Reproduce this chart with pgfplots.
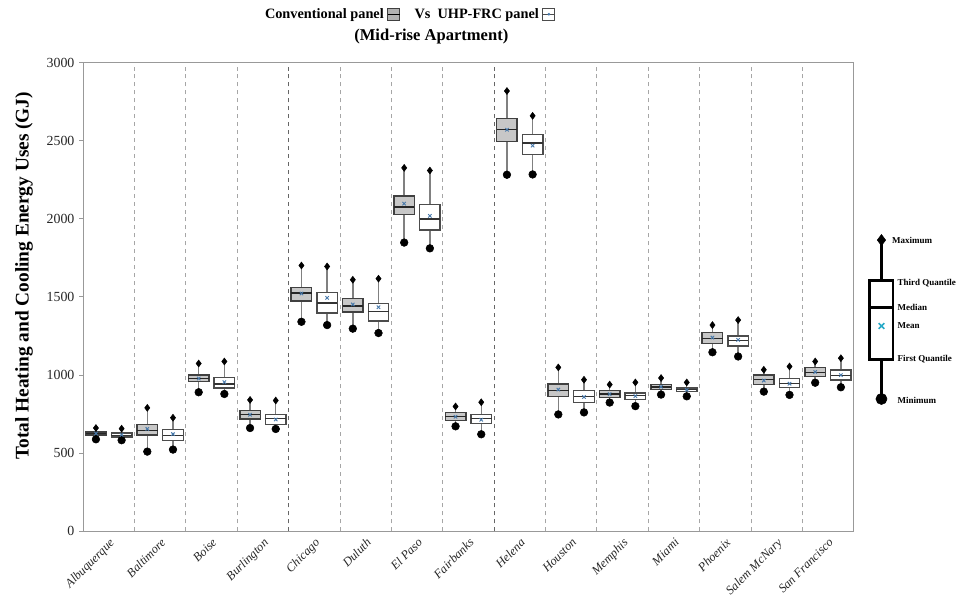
\documentclass[border=0pt]{standalone}
\usepackage{fontspec}
\setmainfont{Liberation Serif}
\usepackage{pgfplots}
\pgfplotsset{compat=1.18}
\usepackage{pgfplotstable}
\usepgfplotslibrary{statistics}
\definecolor{meanblue}{RGB}{70,120,170}
\definecolor{legx}{RGB}{40,170,200}

\pgfplotstableread{
pos   lw   lq   med  uq   uw   mean
0.75  589  615  625  636  661  626
1.75  510  615  646  682  790  655
2.75  890  958  979  1000 1074 978
3.75  661  720  748  773  841  746
4.75  1341 1473 1525 1562 1701 1522
5.75  1297 1405 1441 1489 1610 1452
6.75  1848 2028 2076 2146 2326 2097
7.75  672  710  735  761  799  733
8.75  2282 2496 2570 2642 2818 2570
9.75  748  862  900  943  1049 907
10.75 824  858  879  900  939  878
11.75 875  909  925  939  981  925
12.75 1146 1203 1235 1271 1320 1240
13.75 894  939  970  1000 1034 965
14.75 951  990  1017 1049 1087 1020
}\conv

\pgfplotstableread{
pos   lw   lq   med  uq   uw   mean
1.25  583  604  615  629  657  617
2.25  523  583  615  653  727  622
3.25  879  917  943  985  1087 955
4.25  655  684  720  748  837  716
5.25  1320 1398 1462 1530 1695 1494
6.25  1269 1347 1405 1460 1617 1434
7.25  1811 1928 1998 2093 2309 2019
8.25  621  688  720  748  826  714
9.25  2284 2411 2485 2538 2659 2468
10.25 761  826  862  900  970  860
11.25 801  843  868  885  953  865
12.25 864  896  906  917  953  905
13.25 1119 1187 1222 1250 1352 1225
14.25 873  922  947  979  1055 945
15.25 922  968  996  1032 1108 1000
}\uhp

% legend schematic (position, min, Q1, median, Q3, max, mean)
\pgfplotstableread{
pos   lw   lq   med  uq   uw   mean
16.04 847  1102 1435 1604 1864 1314
}\legtab

\newcommand\drawboxes[2]{%
  \pgfplotstablegetrowsof{#1}\pgfmathtruncatemacro\nrows{\pgfplotsretval-1}%
  \pgfplotsforeachungrouped \i in {0,...,\nrows}{%
    \pgfplotstablegetelem{\i}{pos}\of#1\edef\bP{\pgfplotsretval}%
    \pgfplotstablegetelem{\i}{lw}\of#1\edef\bA{\pgfplotsretval}%
    \pgfplotstablegetelem{\i}{lq}\of#1\edef\bB{\pgfplotsretval}%
    \pgfplotstablegetelem{\i}{med}\of#1\edef\bC{\pgfplotsretval}%
    \pgfplotstablegetelem{\i}{uq}\of#1\edef\bD{\pgfplotsretval}%
    \pgfplotstablegetelem{\i}{uw}\of#1\edef\bE{\pgfplotsretval}%
    \edef\tmp{\noexpand\addplot[#2, boxplot prepared={draw position=\bP,
      lower whisker=\bA, lower quartile=\bB, median=\bC,
      upper quartile=\bD, upper whisker=\bE}] coordinates {};}%
    \tmp
  }%
}

\begin{document}
\newsavebox\iconA
\newsavebox\iconB
\sbox\iconA{\tikz[baseline=0pt]{\draw[black!75, fill=black!30, line width=0.7pt] (0,-0.5pt) rectangle (9pt,8.5pt); \draw[black, line width=0.7pt] (0,4pt)--(9pt,4pt);}}
\sbox\iconB{\tikz[baseline=0pt]{\draw[black!70, fill=white, line width=0.7pt] (0,-0.5pt) rectangle (9pt,8.5pt); \draw[black!70, line width=0.5pt] (0,4pt)--(9pt,4pt); \fill[meanblue] (4.5pt,4pt) circle (1.1pt);}}
\begin{tikzpicture}
\path[use as bounding box] (-57.75pt,-51.75pt) rectangle (660.75pt,401.25pt);
\begin{axis}[
  at={(0,0)}, anchor=south west,
  scale only axis, width=582pt, height=354pt,
  xmin=0.5, xmax=15.5, ymin=0, ymax=3000,
  ytick={0,500,...,3000},
  ytick pos=left,
  xtick={1,...,15},
  xticklabels={Albuquerque,Baltimore,Boise,Burlington,Chicago,Duluth,El Paso,Fairbanks,Helena,Houston,Memphis,Miami,Phoenix,Salem McNary,San Francisco},
  xticklabel style={rotate=45, anchor=north east, font=\fontsize{9.3}{10.5}\selectfont\itshape, inner sep=1pt, text=black!85},
  yticklabel style={font=\fontsize{10.5}{12}\selectfont, text=black!85},
  /pgf/number format/assume math mode=true,
  /pgf/number format/1000 sep={},
  scaled y ticks=false,
  axis line style={black!40, line width=0.8pt},
  tick align=outside, major tick length=3pt,
  ytick style={black!40, line width=0.8pt},
  xtick style={draw=none},
  extra x ticks={1.5,2.5,...,14.5},
  extra x tick labels={},
  extra x tick style={grid=major, major grid style={dashed, black!35, line width=0.7pt}},
  boxplot/draw direction=y,
  boxplot/box extend=0.4,
  boxplot/whisker extend=0,
  clip=false,
  convbox/.style={draw=black!75, fill=black!22, line width=1.1pt, solid,
    boxplot/every whisker/.style={draw=black!50, line width=1.1pt},
    boxplot/every median/.style={draw=black!85, line width=1.1pt}},
  uhpbox/.style={draw=black!70, fill=white, line width=1pt, solid,
    boxplot/every whisker/.style={draw=black!50, line width=1.1pt},
    boxplot/every median/.style={draw=black!80, line width=1pt}},
  legbox/.style={draw=black, fill=white, line width=2.2pt, solid, boxplot/box extend=0.45,
    boxplot/every whisker/.style={draw=black, line width=2.2pt},
    boxplot/every median/.style={draw=black, line width=2.2pt}},
]
\draw[dashed, black!60, line width=0.8pt] (axis cs:4.5,0) -- (axis cs:4.5,3000);
\draw[dashed, black!60, line width=0.8pt] (axis cs:8.5,0) -- (axis cs:8.5,3000);

\drawboxes{\conv}{convbox}
\drawboxes{\uhp}{uhpbox}
\drawboxes{\legtab}{legbox}

% maxima (diamonds), minima (circles), means (x)
\addplot[only marks, mark=diamond*, mark size=2.6pt, black] table[x=pos,y=uw]{\conv};
\addplot[only marks, mark=diamond*, mark size=2.6pt, black] table[x=pos,y=uw]{\uhp};
\addplot[only marks, mark=*, mark size=2.9pt, black] table[x=pos,y=lw]{\conv};
\addplot[only marks, mark=*, mark size=2.9pt, black] table[x=pos,y=lw]{\uhp};
\addplot[only marks, mark=x, mark size=1.8pt, meanblue, line width=0.7pt] table[x=pos,y=mean]{\conv};
\addplot[only marks, mark=x, mark size=1.8pt, meanblue, line width=0.7pt] table[x=pos,y=mean]{\uhp};

% legend schematic marks
\addplot[only marks, mark=diamond*, mark size=4.2pt, black] table[x=pos,y=uw]{\legtab};
\addplot[only marks, mark=*, mark size=4.2pt, black] table[x=pos,y=lw]{\legtab};
\addplot[only marks, mark=x, mark size=3pt, legx, line width=1.2pt] table[x=pos,y=mean]{\legtab};

\begin{scope}[every node/.style={anchor=west, font=\fontsize{6.8}{8}\selectfont\bfseries, inner sep=0pt}]
\node at (axis cs:16.24,1864) {Maximum};
\node at (axis cs:16.35,1590) {Third Quantile};
\node at (axis cs:16.35,1430) {Median};
\node at (axis cs:16.35,1316) {Mean};
\node at (axis cs:16.35,1102) {First Quantile};
\node at (axis cs:16.35,839) {Minimum};
\end{scope}
\end{axis}

\node[font=\fontsize{10.8}{12}\selectfont\bfseries, inner sep=0pt] at (247pt,390pt)
  {Conventional panel \raisebox{-0.5pt}{\usebox\iconA}\quad Vs\ \ UHP-FRC panel \raisebox{-0.5pt}{\usebox\iconB}};
\node[font=\fontsize{12.5}{14}\selectfont\bfseries, inner sep=0pt] at (263pt,373.5pt)
  {(Mid-rise Apartment)};
\node[rotate=90, font=\fontsize{14.6}{16}\selectfont\bfseries, inner sep=0pt] at (-44.5pt,193pt)
  {Total Heating and Cooling Energy Uses (GJ)};
\end{tikzpicture}
\end{document}
